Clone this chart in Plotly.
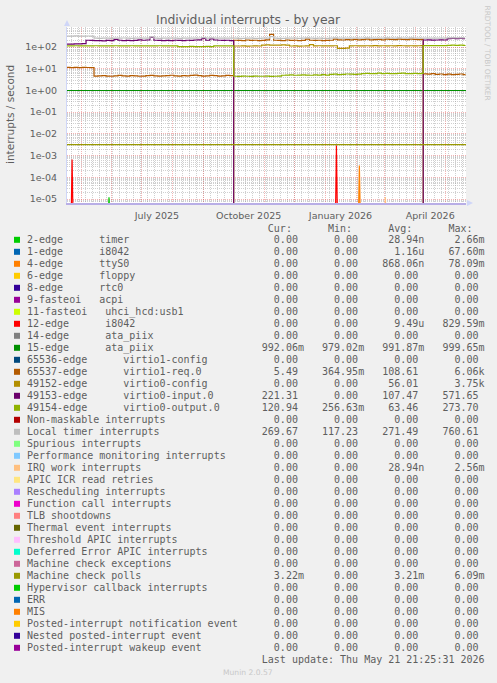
import plotly.graph_objects as go
import pandas as pd

# ---------------- data ----------------
names = [
    "2-edge      timer", "1-edge      i8042", "4-edge      ttyS0", "6-edge      floppy",
    "8-edge      rtc0", "9-fasteoi   acpi", "11-fasteoi   uhci_hcd:usb1", "12-edge      i8042",
    "14-edge      ata_piix", "15-edge      ata_piix", "65536-edge      virtio1-config",
    "65537-edge      virtio1-req.0", "49152-edge      virtio0-config",
    "49153-edge      virtio0-input.0", "49154-edge      virtio0-output.0",
    "Non-maskable interrupts", "Local timer interrupts", "Spurious interrupts",
    "Performance monitoring interrupts", "IRQ work interrupts", "APIC ICR read retries",
    "Rescheduling interrupts", "Function call interrupts", "TLB shootdowns",
    "Thermal event interrupts", "Threshold APIC interrupts", "Deferred Error APIC interrupts",
    "Machine check exceptions", "Machine check polls", "Hypervisor callback interrupts",
    "ERR", "MIS", "Posted-interrupt notification event", "Nested posted-interrupt event",
    "Posted-interrupt wakeup event",
]
colors = [
    "#00CC00", "#0066B3", "#FF8000", "#FFCC00", "#330099", "#990099", "#CCFF00", "#FF0000",
    "#808080", "#008F00", "#00487D", "#B35A00", "#B38F00", "#6B006B", "#8FB300", "#B30000",
    "#BEBEBE", "#80FF80", "#80C9FF", "#FFC080", "#FFE680", "#AA80FF", "#EE00CC", "#FF8080",
    "#666600", "#FFBFFF", "#00FFCC", "#CC6699", "#999900", "#00CC00", "#0066B3", "#FF8000",
    "#FFCC00", "#330099", "#990099",
]
cur_vals = [0, 0, 0, 0, 0, 0, 0, 0, 0, 0.99206, 0, 5.49, 0, 221.31, 120.94, 0, 269.67,
            0, 0, 0, 0, 0, 0, 0, 0, 0, 0, 0, 3.22e-3, 0, 0, 0, 0, 0, 0]
min_vals = [0, 0, 0, 0, 0, 0, 0, 0, 0, 0.97902, 0, 0.36495, 0, 0, 0.25663, 0, 117.23,
            0, 0, 0, 0, 0, 0, 0, 0, 0, 0, 0, 0, 0, 0, 0, 0, 0, 0]
avg_vals = [28.94e-9, 1.16e-6, 868.06e-9, 0, 0, 0, 0, 9.49e-6, 0, 0.99187, 0, 108.61, 56.01,
            107.47, 63.46, 0, 271.49, 0, 0, 28.94e-9, 0, 0, 0, 0, 0, 0, 0, 0, 3.21e-3,
            0, 0, 0, 0, 0, 0]
max_vals = [2.66e-3, 67.60e-3, 78.09e-3, 0, 0, 0, 0, 829.59e-3, 0, 999.65e-3, 0, 6.06e3,
            3.75e3, 571.65, 273.70, 0, 760.61, 0, 0, 2.56e-3, 0, 0, 0, 0, 0, 0, 0, 0,
            6.09e-3, 0, 0, 0, 0, 0, 0]

# time base: three periods separated by the reboots
dates_a = list(pd.date_range("2025-04-16", periods=42, freq="4D"))
dates_b = list(pd.date_range("2025-10-01", periods=48, freq="4D"))
dates_c = list(pd.date_range("2026-04-09", periods=11, freq="4D")) + [pd.Timestamp("2026-05-21")]

# 49153-edge virtio0-input.0
input0_a = [137, 135, 140, 138, 142, 205, 200, 195, 198, 192, 200, 196, 225, 205, 198,
            200, 195, 202, 215, 205, 210, 280, 205, 200, 198, 202, 196, 205, 200, 198,
            205, 200, 210, 215, 250, 205, 235, 210, 205, 200, 205, 198]
input0_b = [0] * 48
input0_c = [210, 212, 208, 210, 212, 210, 245, 248, 245, 250, 245, 245]

# 65537-edge virtio1-req.0
req0_a = [11.5, 11.2, 11.5, 11.3, 11.5, 11.4, 11.2,
          4.6, 4.7, 4.8, 4.6, 4.5, 4.7, 4.9, 4.7, 4.6, 4.8, 4.7, 4.5, 4.6, 4.8, 4.9, 4.7,
          4.6, 4.7, 4.8, 5.0, 4.7, 4.6, 4.8, 4.7, 4.9, 5.1, 4.8, 4.6, 4.7, 4.9, 4.8, 4.6,
          4.7, 4.9, 4.8]
req0_b = [205, 200, 195, 210, 200, 205, 195, 200, 215, 380, 205, 200, 195, 210, 200,
          205, 198, 200, 230, 205, 200, 205, 198, 200, 205, 230, 215, 210, 220, 215,
          225, 215, 220, 230, 215, 220, 225, 215, 230, 225, 220, 230, 225, 220, 230,
          225, 220, 225]
req0_c = [5.8, 5.6, 5.9, 5.5, 5.7, 5.4, 5.6, 5.3, 5.5, 5.7, 5.4, 5.5]

# 49152-edge virtio0-config
config0_a = [0] * 42
config0_b = [111, 111, 112, 110, 111, 112, 111, 122, 124, 121, 123, 122, 124, 121,
             111, 112, 110, 111, 112, 128, 113, 114, 112, 113, 112, 114, 87, 86, 88,
             113, 114, 113, 112, 114, 113, 115, 113, 114, 113, 114, 113, 115, 114, 113,
             114, 113, 114, 115]
config0_c = [0] * 12

# 49154-edge virtio0-output.0
output0_a = [113, 112, 114, 113, 112, 113, 112, 114, 113, 112, 113, 112, 114, 113, 112,
             113, 114, 112, 113, 112, 113, 112, 113, 114, 112, 113, 112, 113, 105, 104,
             105, 106, 104, 105, 104, 106, 105, 112, 113, 112, 113, 112]
output0_b = [4.5, 4.4, 4.6, 4.5, 4.4, 4.6, 4.5, 4.5, 4.6, 4.4, 4.5, 4.6,
             5.0, 5.1, 5.2, 5.0, 5.1, 5.2, 5.1, 5.0, 5.2, 5.1, 5.3, 5.1,
             5.5, 5.6, 5.4, 5.5, 5.7, 5.6, 5.5, 5.6,
             6.0, 6.1, 5.9, 6.0, 6.2, 6.0, 6.1, 5.9, 6.0, 6.1, 6.2, 6.0, 5.9, 6.1, 6.0, 6.1]
output0_c = [115, 116, 115, 115, 116, 115, 120, 121, 120, 121, 120, 121]

# Local timer interrupts
loc_a = [320, 318, 322, 320, 319, 321, 320, 255, 252, 258, 255, 250, 256, 254, 260,
         255, 252, 256, 258, 255, 254, 290, 256, 252, 255, 258, 254, 256, 252, 255,
         258, 254, 256, 260, 270, 256, 262, 255, 254, 256, 255, 254]
loc_b = [255, 252, 250, 256, 254, 252, 250, 255, 258, 300, 254, 252, 250, 256, 254,
         255, 252, 254, 262, 255, 252, 254, 250, 252, 254, 262, 256, 255, 258, 256,
         260, 256, 258, 262, 256, 258, 260, 256, 262, 260, 258, 262, 260, 258, 262,
         260, 258, 260]
loc_c = [255, 256, 254, 255, 256, 255, 262, 264, 262, 265, 262, 262]

# short spikes
timer_dates = ["2025-05-28", "2025-05-29", "2025-05-30"]
timer_vals = [0, 1.2e-5, 0]
i8042_12_dates = ["2025-04-21", "2025-04-22", "2025-04-23", "2026-01-11", "2026-01-12", "2026-01-13"]
i8042_12_vals = [0, 6.6e-4, 0, 0, 2.9e-3, 0]
ttys0_dates = ["2026-02-03", "2026-02-04", "2026-02-05"]
ttys0_vals = [0, 3.5e-4, 0]
irqwork_dates = ["2026-03-01", "2026-03-02", "2026-03-03"]
irqwork_vals = [0, 1.2e-5, 0]

# constant series
flat_dates = ["2025-04-16", "2026-05-21 23:00"]
ata15_vals = [0.992, 0.992]
mcepoll_vals = [3.2e-3, 3.2e-3]

month_ticks = ["2025-05-01", "2025-06-01", "2025-07-01", "2025-08-01", "2025-09-01",
               "2025-10-01", "2025-11-01", "2025-12-01", "2026-01-01", "2026-02-01",
               "2026-03-01", "2026-04-01", "2026-05-01"]
month_labels = ["", "", "July 2025", "", "", "October 2025", "", "", "January 2026", "",
                "", "April 2026", ""]
y_tickvals = [1e-5, 1e-4, 1e-3, 1e-2, 1e-1, 1e0, 1e1, 1e2]
y_ticktext = ["1e-05", "1e-04", "1e-03", "1e-02", "1e-01", "1e+00", "1e+01", "1e+02"]

# ---------------- layout geometry ----------------
W, H = 497, 683
L, R, T, B = 67, 466, 27, 203
PW, PH = R - L, B - T


def pxx(x):
    return (x - L) / PW


def pxy(y):
    return (B - y) / PH


FLOOR = 1e-6
TXT = "#5e5e5e"

ab = dates_a + dates_b + dates_c
series = {
    0: (timer_dates, timer_vals, "linear"),
    2: (ttys0_dates, ttys0_vals, "linear"),
    7: (i8042_12_dates, i8042_12_vals, "linear"),
    9: (flat_dates, ata15_vals, "hv"),
    11: (ab, req0_a + req0_b + req0_c, "hv"),
    12: (ab, config0_a + config0_b + config0_c, "hv"),
    13: (ab, input0_a + input0_b + input0_c, "hv"),
    14: (ab, output0_a + output0_b + output0_c, "hv"),
    16: (ab, loc_a + loc_b + loc_c, "hv"),
    19: (irqwork_dates, irqwork_vals, "linear"),
    28: (flat_dates, mcepoll_vals, "hv"),
}

fig = go.Figure()
for i, nm in enumerate(names):
    if i in series:
        xs, ys, shp = series[i]
    else:
        xs, ys, shp = flat_dates, [0, 0], "hv"
    fig.add_trace(go.Scatter(
        x=xs, y=[v if v > 0 else FLOOR for v in ys], mode="lines", name=nm,
        line=dict(color=colors[i], width=1.2, shape=shp),
        showlegend=False, hoverinfo="skip"))

minor_y = [k * 10.0 ** d for d in range(-6, 3) for k in range(2, 10)]

fig.update_layout(
    width=W, height=H, autosize=False,
    margin=dict(l=L, r=W - R, t=T, b=H - B, pad=0),
    paper_bgcolor="#F0F0F0", plot_bgcolor="#FFFFFF",
    font=dict(family="DejaVu Sans", color=TXT, size=9.5),
    hovermode=False, dragmode=False,
    xaxis=dict(
        type="date", range=["2025-04-16 21:25:31", "2026-05-21 21:25:31"],
        tickmode="array", tickvals=month_ticks, ticktext=month_labels,
        ticklabelshift=15, ticks="", ticklabelstandoff=3,
        showgrid=True, gridcolor="rgba(230,90,90,0.45)", griddash="1px,1px", gridwidth=1,
        minor=dict(tickmode="linear", tick0="2025-04-21", dtick=7 * 86400000,
                   showgrid=True, gridcolor="rgba(150,150,150,0.45)",
                   griddash="1px,1px", ticks=""),
        showline=True, linecolor="#B8AEE6", linewidth=1.5,
        tickfont=dict(size=9.5, color=TXT), zeroline=False, fixedrange=True,
    ),
    yaxis=dict(
        type="log", range=[-5.184, 2.921],
        tickmode="array", tickvals=y_tickvals, ticktext=y_ticktext,
        ticks="", ticklabelstandoff=7,
        showgrid=True, gridcolor="rgba(230,90,90,0.45)", griddash="1px,1px", gridwidth=1,
        minor=dict(tickmode="array", tickvals=minor_y, showgrid=True,
                   gridcolor="rgba(150,150,150,0.45)", griddash="1px,1px", ticks=""),
        showline=True, linecolor="#CFD6F8", linewidth=1,
        tickfont=dict(size=9.5, color=TXT), zeroline=False, fixedrange=True,
    ),
)

ann = []
shapes = []
# title
ann.append(dict(text="Individual interrupts - by year", x=pxx(248), y=pxy(19.3),
                xref="paper", yref="paper", showarrow=False, xanchor="center",
                yanchor="middle", font=dict(size=12.4, color=TXT, family="DejaVu Sans")))
# y axis title
ann.append(dict(text="interrupts / second", x=pxx(10), y=pxy(115), textangle=-90,
                xref="paper", yref="paper", showarrow=False, xanchor="center",
                yanchor="middle", font=dict(size=10.5, color=TXT, family="DejaVu Sans")))
# side text
ann.append(dict(text="RRDTOOL / TOBI OETIKER", x=pxx(487), y=pxy(52.5), textangle=90,
                xref="paper", yref="paper", showarrow=False, xanchor="center",
                yanchor="middle", font=dict(size=7.4, color="#C8C8C8", family="DejaVu Sans")))
# footer
ann.append(dict(text="Munin 2.0.57", x=pxx(248), y=pxy(672),
                xref="paper", yref="paper", showarrow=False, xanchor="center",
                yanchor="middle", font=dict(size=7.6, color="#C8C8C8", family="DejaVu Sans")))

NB = "\u00a0"


def si(v):
    if v == 0:
        return "%6.2f%s" % (0, " ")
    for scale, suf in ((1e3, "k"), (1.0, " "), (1e-3, "m"), (1e-6, "u"), (1e-9, "n")):
        if abs(v) >= scale:
            return "%6.2f%s" % (round(v / scale, 2), suf)
    return "%6.2f%s" % (round(v / 1e-9, 2), "n")


TX0 = 25.5
ROW0 = 239.5
mono = dict(family="DejaVu Sans Mono", size=10, color=TXT)

header = " " * 40 + "Cur:" + " " * 6 + "Min:" + " " * 6 + "Avg:" + " " * 6 + "Max:"
ann.append(dict(text=header.replace(" ", NB), x=pxx(TX0), y=pxy(ROW0 - 11.5),
                xref="paper", yref="paper", showarrow=False, xanchor="left",
                yanchor="middle", font=mono, borderpad=0))
for i, nm in enumerate(names):
    row = nm.ljust(39) + si(cur_vals[i]) + "   " + si(min_vals[i]) + "   " + \
        si(avg_vals[i]) + "   " + si(max_vals[i])
    yc = ROW0 + 12 * i
    ann.append(dict(text=row.replace(" ", NB), x=pxx(TX0), y=pxy(yc),
                    xref="paper", yref="paper", showarrow=False, xanchor="left",
                    yanchor="middle", font=mono, borderpad=0))
    shapes.append(dict(type="rect", xref="paper", yref="paper",
                       x0=pxx(14), x1=pxx(20), y0=pxy(yc - 2.7), y1=pxy(yc + 3.3),
                       fillcolor=colors[i], line=dict(width=0)))
upd = " " * 39 + "Last update: Thu May 21 21:25:31 2026"
ann.append(dict(text=upd.replace(" ", NB), x=pxx(TX0), y=pxy(ROW0 + 12 * 35),
                xref="paper", yref="paper", showarrow=False, xanchor="left",
                yanchor="middle", font=mono, borderpad=0))

# axis arrows
shapes.append(dict(type="path", xref="paper", yref="paper",
                   path="M %f %f L %f %f L %f %f Z" % (pxx(64), pxy(26), pxx(70), pxy(26), pxx(67), pxy(20)),
                   fillcolor="#CFD6F8", line=dict(width=0)))
shapes.append(dict(type="path", xref="paper", yref="paper",
                   path="M %f %f L %f %f L %f %f Z" % (pxx(467), pxy(200), pxx(467), pxy(206), pxx(473), pxy(203)),
                   fillcolor="#CFD6F8", line=dict(width=0)))

fig.update_layout(annotations=ann, shapes=shapes)
fig.write_html("out.html", config={"displayModeBar": False, "staticPlot": True},
               post_script="document.body.style.margin='0';document.body.style.padding='0';")
